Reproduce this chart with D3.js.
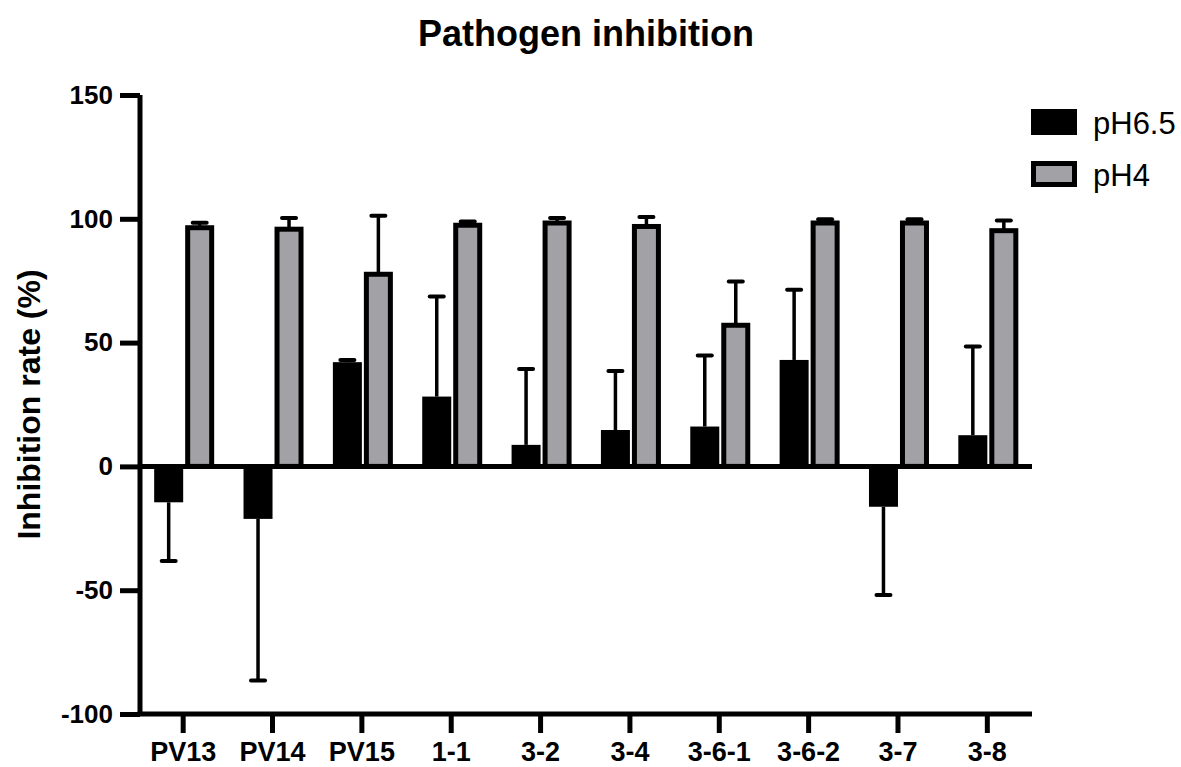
<!DOCTYPE html>
<html>
<head>
<meta charset="utf-8">
<script src="https://cdn.jsdelivr.net/npm/d3@7"></script>
<style>
  html, body { margin: 0; padding: 0; background: #fff; }
  svg { display: block; font-family: "Liberation Sans", Arial, Helvetica, sans-serif; }
</style>
</head>
<body>
<svg id="chart" width="1181" height="767"></svg>
<script>
// Strains tested
const categories = ["PV13", "PV14", "PV15", "1-1", "3-2", "3-4", "3-6-1", "3-6-2", "3-7", "3-8"];

// Mean inhibition rate (%) and SD at pH 6.5
const ph65 = [-14.5, -21.2, 42.1, 28.2, 8.7, 14.7, 16.1, 43.0, -16.3, 12.6];
const ph65Err = [23.7, 65.3, 0.9, 40.4, 30.6, 23.8, 28.7, 28.3, 35.6, 35.8];

// Mean inhibition rate (%) and SD at pH 4
const ph4 = [96.4, 95.8, 77.6, 97.4, 98.3, 96.9, 57.0, 98.3, 98.3, 95.2];
const ph4Err = [2.0, 4.5, 23.6, 1.5, 2.0, 3.8, 17.7, 1.5, 1.5, 4.1];

const yTicks = [-100, -50, 0, 50, 100, 150];
const seriesNames = ["pH6.5", "pH4"];

const GREY = "#a2a1a6";
const FONT = "'Liberation Sans', Arial, sans-serif";
const svg = d3.select("#chart");

const x = d3.scaleBand().domain(categories).range([138.5, 1032]);
const y = d3.scaleLinear().domain([-100, 150]).range([714, 95]);

const barW = 29;
const gap = 2;

// Title
svg.append("text")
  .attr("x", 586).attr("y", 46)
  .attr("text-anchor", "middle")
  .attr("font-size", 36).attr("font-weight", "bold")
  .text("Pathogen inhibition");

// Y axis title
svg.append("text")
  .attr("transform", `translate(40, ${y(25)}) rotate(-90)`)
  .attr("text-anchor", "middle")
  .attr("font-size", 32).attr("font-weight", "bold")
  .text("Inhibition rate (%)");

// Error bars (drawn first so the pH4 bars cover the inner half)
function errorBar(g, cx, v, e) {
  const end = v >= 0 ? v + e : v - e;
  g.append("line")
    .attr("x1", cx).attr("x2", cx)
    .attr("y1", y(v)).attr("y2", y(end))
    .attr("stroke", "#000").attr("stroke-width", 3.5);
  g.append("line")
    .attr("x1", cx - 7).attr("x2", cx + 7)
    .attr("y1", y(end)).attr("y2", y(end))
    .attr("stroke", "#000").attr("stroke-width", 4)
    .attr("stroke-linecap", "round");
}

const errG = svg.append("g");
categories.forEach((c, i) => {
  const cx = x(c) + x.bandwidth() / 2;
  errorBar(errG, cx - barW / 2, ph65[i], ph65Err[i]);
  errorBar(errG, cx + gap + barW / 2, ph4[i], ph4Err[i]);
});

// pH6.5 bars (solid black)
svg.append("g").selectAll("rect")
  .data(categories)
  .join("rect")
  .attr("x", c => x(c) + x.bandwidth() / 2 - barW)
  .attr("width", barW)
  .attr("y", (c, i) => Math.min(y(ph65[i]), y(0)))
  .attr("height", (c, i) => Math.abs(y(ph65[i]) - y(0)))
  .attr("fill", "#000");

// pH4 bars (grey with heavy black outline)
svg.append("g").selectAll("rect")
  .data(categories)
  .join("rect")
  .attr("x", c => x(c) + x.bandwidth() / 2 + gap + 2.5)
  .attr("width", barW - 5)
  .attr("y", (c, i) => y(ph4[i]))
  .attr("height", (c, i) => y(0) - y(ph4[i]))
  .attr("fill", GREY)
  .attr("stroke", "#000").attr("stroke-width", 5);

// Zero line
svg.append("line")
  .attr("x1", 140).attr("x2", 1032)
  .attr("y1", y(0)).attr("y2", y(0))
  .attr("stroke", "#000").attr("stroke-width", 5);

// Y axis
const yAxis = svg.append("g")
  .attr("transform", "translate(140,0)")
  .call(d3.axisLeft(y).tickValues(yTicks).tickFormat(d => String(d))
    .tickSize(20).tickPadding(7).tickSizeOuter(0));
yAxis.select(".domain").attr("stroke", "#000").attr("stroke-width", 5)
  .attr("d", `M0,${y(150)}V${y(-100)}`);
yAxis.selectAll(".tick line").attr("stroke", "#000").attr("stroke-width", 5);
yAxis.selectAll(".tick text")
  .attr("font-size", 26).attr("font-weight", "bold")
  .attr("font-family", FONT).attr("fill", "#000");

// X axis at the bottom
const xAxis = svg.append("g")
  .attr("transform", `translate(0,${y(-100)})`)
  .call(d3.axisBottom(x).tickSize(19).tickPadding(9).tickSizeOuter(0));
xAxis.select(".domain").attr("stroke", "#000").attr("stroke-width", 5)
  .attr("d", "M137.5,0H1032");
xAxis.selectAll(".tick line").attr("stroke", "#000").attr("stroke-width", 5);
xAxis.selectAll(".tick text")
  .attr("font-size", 27).attr("font-weight", "bold")
  .attr("font-family", FONT).attr("fill", "#000");

// Legend
const legend = svg.append("g");
legend.append("rect")
  .attr("x", 1031).attr("y", 109).attr("width", 46).attr("height", 26)
  .attr("fill", "#000");
legend.append("rect")
  .attr("x", 1033.5).attr("y", 163.5).attr("width", 41).attr("height", 21)
  .attr("fill", GREY).attr("stroke", "#000").attr("stroke-width", 5);
legend.selectAll("text")
  .data(seriesNames)
  .join("text")
  .attr("x", 1093)
  .attr("y", (d, i) => 134 + i * 52)
  .attr("font-size", 31)
  .text(d => d);
</script>
</body>
</html>
